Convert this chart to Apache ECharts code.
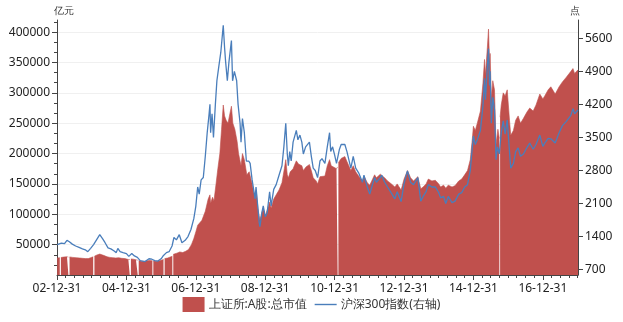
<!DOCTYPE html>
<html><head><meta charset="utf-8">
<script src="https://cdn.jsdelivr.net/npm/echarts@6/dist/echarts.min.js"></script>
<style>html,body{margin:0;padding:0;background:#fff}#c{width:623px;height:322px}</style>
</head><body><div id="c"></div>
<script>
// 上证所:A股:总市值 (亿元), null = gap (holiday)
const capDates = ['2003-01-02','2003-01-29','2003-02-05','2003-02-10','2003-03-10','2003-04-15','2003-04-30','2003-05-05','2003-05-12','2003-06-15','2003-07-20','2003-08-25','2003-09-25','2003-10-25','2003-11-25','2003-12-20',
'2004-01-16','2004-01-26','2004-01-29','2004-02-25','2004-03-25','2004-04-10','2004-05-10','2004-06-10','2004-07-10','2004-08-10','2004-09-10','2004-10-10','2004-11-10','2004-12-15',
'2005-01-20','2005-02-04','2005-02-14','2005-02-16','2005-03-15','2005-04-10','2005-04-29','2005-05-04','2005-05-09','2005-06-05','2005-07-10','2005-08-20','2005-09-30','2005-10-04','2005-10-10','2005-11-15','2005-12-15',
'2006-01-25','2006-02-01','2006-02-06','2006-03-10','2006-04-28','2006-05-04','2006-05-08','2006-06-15','2006-07-15','2006-08-15','2006-09-15','2006-10-15','2006-11-15','2006-12-10','2006-12-31',
'2007-01-20','2007-02-10','2007-03-05','2007-04-10','2007-05-10','2007-05-29','2007-06-05','2007-06-25','2007-07-10','2007-08-01','2007-08-20','2007-09-10','2007-09-28','2007-10-16','2007-10-30','2007-11-15','2007-12-05','2007-12-20',
'2008-01-10','2008-01-25','2008-02-15','2008-03-10','2008-03-25','2008-04-20','2008-05-05','2008-05-25','2008-06-20','2008-07-15','2008-08-15','2008-09-15','2008-09-26','2008-10-15','2008-11-04','2008-11-25','2008-12-10','2008-12-31',
'2009-01-20','2009-02-15','2009-03-03','2009-03-30','2009-04-25','2009-05-25','2009-06-25','2009-07-20','2009-08-04','2009-08-20','2009-08-31','2009-09-20','2009-10-20','2009-11-23','2009-12-15','2009-12-31',
'2010-01-20','2010-02-05','2010-03-05','2010-04-10','2010-04-30','2010-05-20','2010-06-20','2010-07-05','2010-07-30','2010-08-20','2010-09-20','2010-10-15','2010-11-08','2010-11-25','2010-12-15',
'2011-01-20','2011-02-01','2011-02-04','2011-02-09','2011-03-10','2011-04-18','2011-05-10','2011-06-20','2011-07-15','2011-08-10','2011-09-10','2011-10-20','2011-11-05','2011-12-10',
'2012-01-05','2012-02-25','2012-03-15','2012-04-25','2012-05-10','2012-06-10','2012-07-10','2012-08-20','2012-09-25','2012-10-20','2012-11-30','2012-12-31',
'2013-02-05','2013-03-10','2013-04-10','2013-05-25','2013-06-25','2013-07-20','2013-08-20','2013-09-12','2013-10-20','2013-11-25','2013-12-31',
'2014-01-20','2014-02-20','2014-03-15','2014-04-10','2014-05-20','2014-06-20','2014-07-30','2014-08-30','2014-09-30','2014-10-30','2014-11-28','2014-12-20','2014-12-31',
'2015-01-20','2015-02-10','2015-03-15','2015-04-10','2015-04-27','2015-05-07','2015-05-27','2015-06-08','2015-06-19','2015-06-25','2015-07-08','2015-07-23','2015-08-10','2015-08-26','2015-09-15','2015-09-30','2015-10-04','2015-10-08','2015-10-20','2015-11-10','2015-11-30','2015-12-22',
'2016-01-15','2016-01-28','2016-02-25','2016-03-20','2016-04-15','2016-05-10','2016-06-10','2016-07-15','2016-08-15','2016-09-20','2016-10-20','2016-11-29','2016-12-31',
'2017-01-20','2017-02-25','2017-03-25','2017-04-10','2017-05-10','2017-06-20','2017-07-25','2017-08-31','2017-09-20','2017-10-20','2017-11-13','2017-11-30','2017-12-20','2018-01-05'];
const capValues = [28000,28500,null,28800,29500,30000,29500,null,29800,29000,28500,28000,27500,27000,27000,28500,
30000,null,31000,33000,34500,34000,32000,30000,29000,28500,28000,28500,27500,27000,
25500,25500,null,26500,26000,25000,24500,null,24000,22500,22500,24000,23500,null,23000,22800,23500,
25500,null,27000,28000,31000,null,34000,36000,38000,37000,39000,42000,50000,60000,71000,
82000,80000,90000,105000,125000,132000,118000,128000,122000,150000,175000,200000,240000,280000,262000,255000,250000,262000,
278000,250000,240000,220000,200000,180000,200000,190000,165000,170000,150000,125000,140000,110000,90000,102000,110000,97000,
100000,120000,110000,125000,132000,140000,152000,175000,190000,165000,160000,170000,175000,188000,183000,186000,
180000,172000,178000,182000,172000,160000,155000,150000,162000,165000,163000,180000,190000,180000,183000,
175000,178000,null,185000,192000,195000,187000,172000,180000,170000,163000,155000,163000,152000,
148000,165000,160000,166000,168000,160000,155000,150000,145000,150000,140000,158000,
172000,160000,155000,162000,142000,145000,150000,158000,155000,156000,150000,
145000,148000,143000,148000,145000,147000,155000,158000,165000,172000,190000,225000,245000,
238000,250000,270000,315000,355000,330000,375000,405000,350000,365000,290000,320000,305000,215000,240000,225000,null,260000,280000,300000,295000,305000,
255000,230000,238000,255000,262000,250000,258000,268000,275000,270000,280000,298000,290000,
295000,305000,310000,308000,298000,310000,318000,325000,328000,335000,340000,332000,333000,338000];

// 沪深300指数 (点)
const hsDates = ['2003-01-02','2003-02-15','2003-03-20','2003-04-15','2003-05-10','2003-06-10','2003-07-15','2003-08-20','2003-09-25','2003-10-25','2003-11-20','2003-12-20',
'2004-01-20','2004-02-20','2004-03-25','2004-04-06','2004-04-25','2004-05-20','2004-06-20','2004-07-20','2004-08-20','2004-09-15','2004-10-01','2004-10-25','2004-11-25','2004-12-31',
'2005-01-25','2005-02-25','2005-03-25','2005-04-25','2005-05-25','2005-06-05','2005-07-15','2005-08-25','2005-09-25','2005-10-25','2005-11-25','2005-12-31',
'2006-01-25','2006-02-25','2006-03-25','2006-04-25','2006-05-15','2006-06-10','2006-07-10','2006-08-07','2006-09-10','2006-10-10','2006-11-10','2006-12-10','2006-12-31',
'2007-01-20','2007-02-05','2007-02-25','2007-03-20','2007-04-10','2007-04-30','2007-05-20','2007-05-29','2007-06-05','2007-06-20','2007-07-05','2007-07-25','2007-08-10','2007-08-30','2007-09-20','2007-10-16','2007-10-30','2007-11-10','2007-11-28','2007-12-15',
'2008-01-10','2008-01-22','2008-02-10','2008-03-05','2008-03-20','2008-04-10','2008-04-20','2008-05-05','2008-05-25','2008-06-15','2008-07-10','2008-07-25','2008-08-15','2008-09-15','2008-09-25','2008-10-15','2008-10-28','2008-11-05','2008-11-25','2008-12-10','2008-12-31',
'2009-01-20','2009-02-15','2009-03-03','2009-03-30','2009-04-25','2009-05-25','2009-06-25','2009-07-15','2009-08-04','2009-08-20','2009-08-31','2009-09-15','2009-09-30','2009-10-20','2009-11-23','2009-12-10','2009-12-31',
'2010-01-20','2010-02-05','2010-03-01','2010-04-10','2010-04-30','2010-05-20','2010-06-10','2010-07-05','2010-07-30','2010-08-20','2010-09-20','2010-10-15','2010-11-08','2010-11-20','2010-12-10','2010-12-31',
'2011-01-20','2011-02-20','2011-03-10','2011-04-18','2011-05-10','2011-06-20','2011-07-15','2011-08-10','2011-09-10','2011-10-20','2011-11-05','2011-12-10',
'2012-01-05','2012-02-25','2012-03-15','2012-04-25','2012-05-10','2012-06-10','2012-07-10','2012-08-20','2012-09-25','2012-10-20','2012-11-30','2012-12-31',
'2013-02-05','2013-03-10','2013-04-10','2013-05-25','2013-06-25','2013-07-20','2013-08-20','2013-09-12','2013-10-20','2013-11-25','2013-12-31',
'2014-01-20','2014-02-20','2014-03-15','2014-04-10','2014-05-20','2014-06-20','2014-07-30','2014-08-30','2014-09-30','2014-10-30','2014-11-28','2014-12-20','2014-12-31',
'2015-01-20','2015-02-10','2015-03-15','2015-04-10','2015-04-27','2015-05-07','2015-05-27','2015-06-08','2015-06-19','2015-06-25','2015-07-08','2015-07-23','2015-08-10','2015-08-26','2015-09-10','2015-09-29','2015-10-20','2015-11-10','2015-11-30','2015-12-22',
'2016-01-15','2016-01-28','2016-02-25','2016-03-20','2016-04-15','2016-05-10','2016-06-10','2016-07-15','2016-08-15','2016-09-20','2016-10-20','2016-11-29','2016-12-31',
'2017-01-20','2017-02-25','2017-03-25','2017-04-10','2017-05-10','2017-06-20','2017-07-25','2017-08-31','2017-09-20','2017-10-20','2017-11-13','2017-11-30','2017-12-20','2018-01-05'];
const hsValues = [1230,1260,1250,1320,1290,1240,1200,1170,1140,1120,1080,1150,
1230,1330,1440,1410,1350,1270,1160,1140,1100,1060,1150,1080,1060,1040,
980,1040,990,960,890,850,870,930,920,890,880,930,
1000,1060,1080,1200,1380,1330,1440,1270,1320,1400,1550,1780,2040,
2450,2300,2600,2650,3100,3600,4000,4200,3600,4000,3500,4200,4700,5000,5300,5877,5400,5100,4700,5100,
5550,4700,4900,4700,4200,3800,3400,3900,3600,3000,3000,2950,2600,2200,2450,2000,1700,1610,1900,2050,1820,
1900,2350,2050,2400,2500,2700,2900,3300,3800,3150,2900,3200,3000,3400,3650,3450,3550,
3400,3150,3300,3400,3100,2850,2800,2650,3000,3050,2950,3300,3600,3200,3300,3130,
2950,3250,3350,3350,3200,2850,3100,2850,2750,2550,2700,2450,
2300,2650,2550,2650,2700,2550,2450,2320,2200,2350,2140,2520,
2790,2550,2500,2650,2150,2250,2350,2500,2450,2450,2330,
2220,2250,2100,2250,2120,2150,2300,2330,2450,2500,2800,3300,3530,
3350,3450,3650,4150,4750,4300,5000,5380,4600,4900,3800,4350,4100,3030,3300,3150,3600,3850,3570,3870,
3200,2850,2950,3200,3280,3100,3150,3280,3380,3250,3350,3550,3310,
3380,3480,3470,3510,3380,3600,3750,3830,3850,3960,4110,4000,4000,4080];

const xLabelDates = ['2002-12-31','2004-12-31','2006-12-31','2008-12-31','2010-12-31','2012-12-31','2014-12-31','2016-12-31'];
const leftTicks = [50000,100000,150000,200000,250000,300000,350000,400000];
const rightTicks = [700,1400,2100,2800,3500,4200,4900,5600];

const RED = '#c0504d', BLUE = '#4a7ebb', AX = '#444';
function ts(s) { const p = s.split('-').map(Number); return Date.UTC(p[0], p[1] - 1, p[2]); }
function fmt(v) {
  const d = new Date(v);
  const p = n => String(n).padStart(2, '0');
  return p(d.getUTCFullYear() % 100) + '-' + p(d.getUTCMonth() + 1) + '-' + p(d.getUTCDate());
}
const quarterTicks = [ts('2002-12-31')];
for (let y = 2003; y <= 2017; y++) { ['03-31','06-30','09-30','12-31'].forEach(m => quarterTicks.push(ts(y + '-' + m))); }
const xLabelTs = xLabelDates.map(ts);
const X_MIN = ts('2002-12-31'), X_MAX = ts('2018-01-05');
const plain = v => String(v);
const lineIcon = 'path://M0,0M22,15M0,6.8L22,6.8L22,8.2L0,8.2Z';

const chart = echarts.init(document.getElementById('c'), null, {renderer: 'canvas'});
const font = 'Noto Sans, sans-serif';
chart.setOption({
  animation: false,
  textStyle: {fontFamily: font},
  grid: {left: 57, right: 45, top: 20, bottom: 47},
  legend: {
    bottom: 5, left: 'center', itemWidth: 22, itemHeight: 15, itemGap: 8,
    textStyle: {fontSize: 12, color: '#333', fontFamily: font, padding: [0, 0, 0, -1]},
    data: [{name: '上证所:A股:总市值', icon: 'rect'}, {name: '沪深300指数(右轴)', icon: lineIcon}]
  },
  xAxis: [{
    type: 'value', min: X_MIN, max: X_MAX,
    axisLine: {lineStyle: {color: AX}},
    axisTick: {show: true, length: 5, lineStyle: {color: AX}, customValues: xLabelTs},
    axisLabel: {customValues: xLabelTs, formatter: fmt, fontSize: 12, color: '#222', margin: 8},
    splitLine: {show: false}
  }, {
    type: 'value', min: X_MIN, max: X_MAX, position: 'bottom',
    axisLine: {show: false},
    axisTick: {show: true, length: 3, lineStyle: {color: AX}, customValues: quarterTicks},
    axisLabel: {show: false}, splitLine: {show: false}
  }],
  yAxis: [{
    type: 'value', min: 0, max: 420000, interval: 50000,
    name: '亿元', nameLocation: 'end', nameGap: 4,
    nameTextStyle: {fontSize: 10, color: '#333', align: 'left', padding: [0, 0, 0, -3]},
    axisLine: {show: true, lineStyle: {color: AX}},
    axisTick: {show: true, length: 5, lineStyle: {color: AX}, customValues: leftTicks},
    minorTick: {show: true, splitNumber: 3, length: 3, lineStyle: {color: AX}},
    axisLabel: {customValues: leftTicks, formatter: plain, fontSize: 12, color: '#222', margin: 7},
    splitLine: {show: true, lineStyle: {color: '#f0f0f0'}}
  }, {
    type: 'value', min: 586, max: 5987, position: 'right',
    name: '点', nameLocation: 'end', nameGap: 4,
    nameTextStyle: {fontSize: 10, color: '#333', align: 'right', padding: [0, -2, 0, 0]},
    axisLine: {show: true, lineStyle: {color: AX}},
    axisTick: {show: true, length: 5, lineStyle: {color: AX}, customValues: rightTicks},
    axisLabel: {customValues: rightTicks, formatter: plain, fontSize: 12, color: '#222', margin: 7},
    splitLine: {show: false}
  }],
  series: [{
    name: '上证所:A股:总市值', type: 'line', xAxisIndex: 0, yAxisIndex: 0,
    data: capDates.map((d, i) => [ts(d), capValues[i]]),
    symbol: 'none', connectNulls: false,
    itemStyle: {color: RED},
    lineStyle: {color: RED, width: 0.6},
    areaStyle: {color: RED, opacity: 1}
  }, {
    name: '沪深300指数(右轴)', type: 'line', xAxisIndex: 0, yAxisIndex: 1,
    data: hsDates.map((d, i) => [ts(d), hsValues[i]]),
    symbol: 'none',
    itemStyle: {color: BLUE},
    lineStyle: {color: BLUE, width: 1.3}
  }]
});
</script></body></html>
